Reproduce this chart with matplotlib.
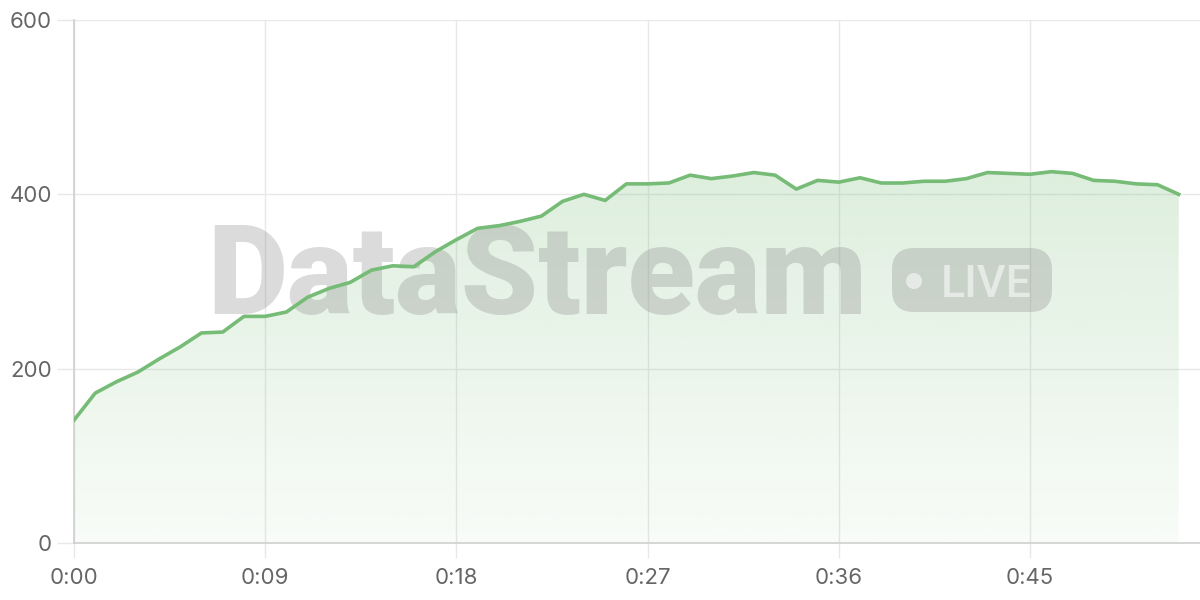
import matplotlib
matplotlib.use('Agg')
import matplotlib.pyplot as plt
from matplotlib.patches import FancyBboxPatch, Circle
from matplotlib.transforms import IdentityTransform
import numpy as np

# Values (one point per second)
seconds = list(range(53))
values = [141, 172, 185, 196, 211, 225, 241, 242, 260, 260,
          265, 282, 292, 299, 313, 318, 317, 334, 348, 361,
          364, 369, 375, 392, 400, 393, 412, 412, 413, 422,
          418, 421, 425, 422, 406, 416, 414, 419, 413, 413,
          415, 415, 418, 425, 424, 423, 426, 424, 416, 415,
          412, 411, 400]
x_ticks = [0, 9, 18, 27, 36, 45]
x_tick_labels = ['0:00', '0:09', '0:18', '0:27', '0:36', '0:45']
y_ticks = [0, 200, 400, 600]

line_color = '#76bb76'
grid_color = '#e8e8e8'
text_color = '#666666'

plt.rcParams['font.family'] = ['Inter', 'DejaVu Sans']

fig = plt.figure(figsize=(12, 6), dpi=100)
ax = fig.add_axes([74 / 1200, 57 / 600, 1 - 74 / 1200, 523 / 600])
ax.set_xlim(0, 53)
ax.set_ylim(0, 600)

# gradient area under the line
poly = ax.fill_between(seconds, values, 0, color='none', lw=0)
rgb = matplotlib.colors.to_rgb(line_color)
grad = np.zeros((256, 1, 4))
grad[:, 0, :3] = rgb
grad[:, 0, 3] = np.linspace(0.32, 0.05, 256)
img = ax.imshow(grad, extent=[0, 53, 0, 600], aspect='auto', origin='upper', zorder=1)
img.set_clip_path(poly.get_paths()[0], transform=ax.transData)

# watermark (pixel coords, drawn under the line)
ax.text(207, 600 - 314, 'DataStream', transform=IdentityTransform(),
        family='Roboto', weight='black', fontsize=89, color='#888888',
        alpha=0.3, va='baseline', ha='left', zorder=2)
badge = FancyBboxPatch((892, 600 - 312), 160, 64,
                       boxstyle='round,pad=0,rounding_size=22',
                       transform=IdentityTransform(), facecolor='#888888',
                       edgecolor='none', alpha=0.3, zorder=2)
ax.add_patch(badge)
ax.add_patch(Circle((914, 600 - 281), 8, transform=IdentityTransform(),
                    facecolor='white', edgecolor='none', alpha=0.55, zorder=3))
ax.text(941, 600 - 297, 'LIVE', transform=IdentityTransform(),
        family='Roboto', weight='medium', fontsize=32, color='white',
        alpha=0.55, va='baseline', ha='left', zorder=3)

ax.plot(seconds, values, color=line_color, lw=2.6, zorder=4,
        solid_joinstyle='round')

ax.set_xticks(x_ticks)
ax.set_xticklabels(x_tick_labels)
ax.set_yticks(y_ticks)
ax.grid(True, color=grid_color, lw=1, zorder=0)
ax.set_axisbelow(True)
for side in ['top', 'right']:
    ax.spines[side].set_visible(False)
for side in ['left', 'bottom']:
    ax.spines[side].set_color('#cfcfcf')
    ax.spines[side].set_linewidth(1.2)
ax.tick_params(axis='x', length=11, width=1, color=grid_color, pad=7,
               labelsize=16, labelcolor=text_color)
ax.tick_params(axis='y', length=12, width=1, color=grid_color, pad=4,
               labelsize=16, labelcolor=text_color)

fig.savefig('out.png', dpi=100)
